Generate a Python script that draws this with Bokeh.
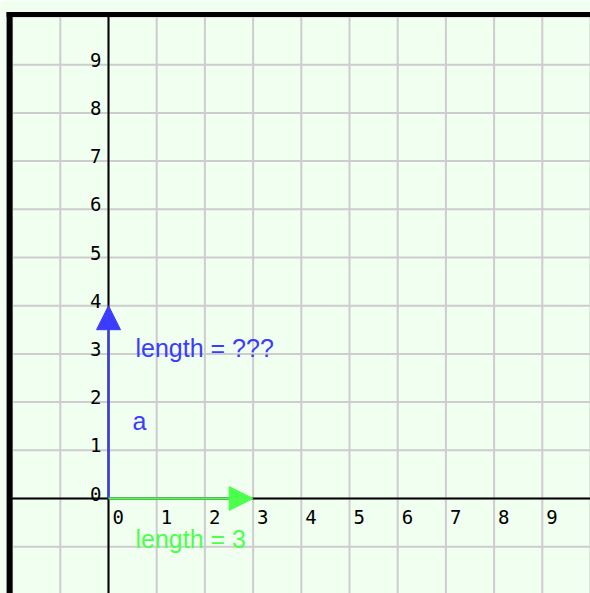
from bokeh.plotting import figure
from bokeh.models import Arrow, NormalHead
from bokeh.core.properties import value
from bokeh.embed import file_html
from bokeh.resources import INLINE

# ---- data ----
x_ticks = [0, 1, 2, 3, 4, 5, 6, 7, 8, 9]
y_ticks = [0, 1, 2, 3, 4, 5, 6, 7, 8, 9]
x_tick_labels = [str(v) for v in x_ticks]
y_tick_labels = [str(v) for v in y_ticks]
grid_lines = [-2, -1, 0, 1, 2, 3, 4, 5, 6, 7, 8, 9, 10]

vec_names = ["a (blue)", "b (green)"]
vec_x0 = [0, 0]
vec_y0 = [0, 0]
vec_x1 = [0, 3]
vec_y1 = [4, 0]
vec_colors = ["#3c3cff", "#4cff4c"]

label_text = ["length = ???", "a", "length = 3"]
label_x = [0.56, 0.5, 0.56]
label_y = [3.13, 1.6, -0.84]
label_colors = ["#3c3cff", "#3c3cff", "#4cff4c"]

# ---- layout ----
U = 48.2            # px per unit
OX, OY = 108, 498   # origin position inside the canvas (px)
W, H = 590, 593
x_start, x_end = -OX / U, (W - OX) / U
y_start, y_end = -(H - OY) / U, OY / U
GMIN, GMAX = -2, 10

p = figure(width=W, height=H, x_range=(x_start, x_end), y_range=(y_start, y_end),
           output_backend="svg", toolbar_location=None,
           x_axis_type=None, y_axis_type=None,
           min_border_left=0, min_border_right=0, min_border_top=0, min_border_bottom=0)
p.background_fill_color = "#f0fff0"
p.border_fill_color = "#f0fff0"
p.outline_line_color = None

# grid
p.segment(x0=grid_lines, x1=grid_lines, y0=[y_start] * len(grid_lines), y1=[GMAX] * len(grid_lines),
          line_color="#cdcdcd", line_width=2)
p.segment(x0=[GMIN] * len(grid_lines), x1=[x_end] * len(grid_lines), y0=grid_lines, y1=grid_lines,
          line_color="#cdcdcd", line_width=2)

# axes through origin
p.segment(x0=[GMIN, 0], x1=[x_end, 0], y0=[0, y_start], y1=[0, GMAX], line_color="black", line_width=2)

# border (top and left), thickness in px
bt = 4.5 / U
bl = 5.5 / U
p.quad(left=[GMIN - bl, GMIN - bl], right=[x_end, GMIN + 0.01],
       bottom=[GMAX - 0.01, y_start], top=[GMAX + bt, GMAX + bt],
       fill_color="black", line_color=None)

# vectors
for x0, y0, x1, y1, c in zip(vec_x0, vec_y0, vec_x1, vec_y1, vec_colors):
    p.add_layout(Arrow(x_start=x0, y_start=y0, x_end=x1, y_end=y1,
                       line_color=c, line_width=2,
                       end=NormalHead(size=24, fill_color=c, line_color=c, line_width=1)))

# tick labels
p.text(x=x_ticks, y=[0] * len(x_ticks), text=x_tick_labels, x_offset=4, y_offset=18,
       text_align="left", text_baseline="alphabetic",
       text_font=value("DejaVu Sans Mono"), text_font_size="19px", text_color="black")
p.text(x=[0] * len(y_ticks), y=y_ticks, text=y_tick_labels, x_offset=-7, y_offset=-5,
       text_align="right", text_baseline="alphabetic",
       text_font=value("DejaVu Sans Mono"), text_font_size="19px", text_color="black")

# vector labels
p.text(x=label_x, y=label_y, text=label_text, text_color=label_colors,
       text_align="left", text_baseline="alphabetic",
       text_font=value("Liberation Sans"), text_font_size="25px")

open("out.html", "w").write(file_html(p, INLINE))
